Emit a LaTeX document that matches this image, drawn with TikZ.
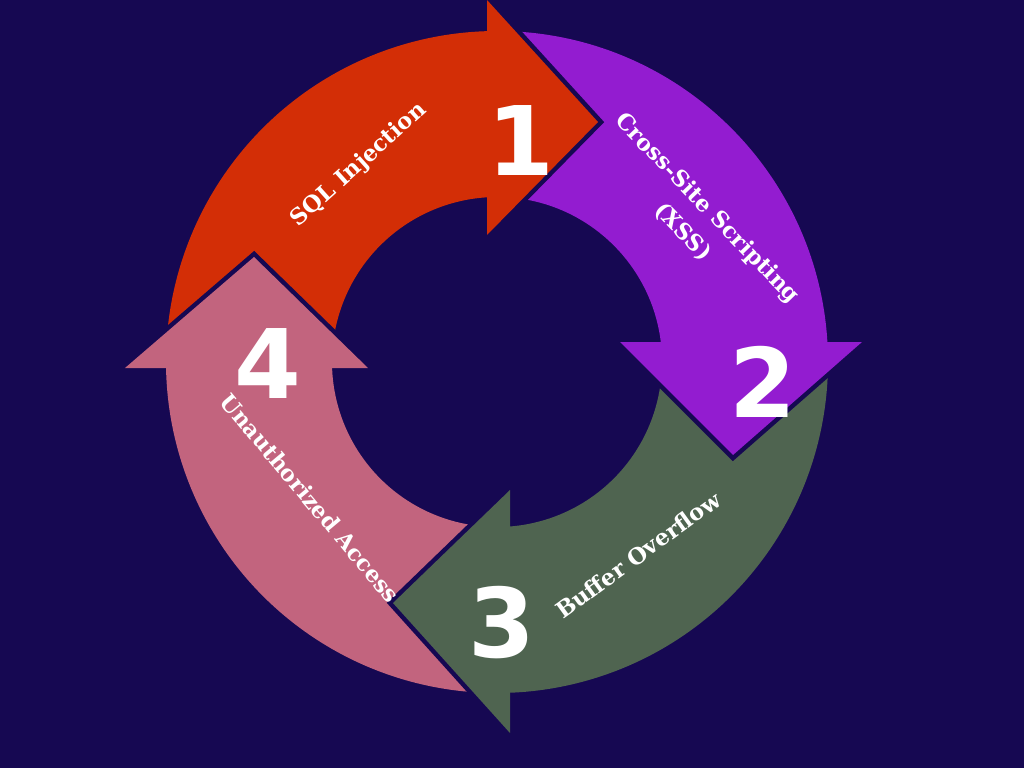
\documentclass[tikz,border=0pt]{standalone}
\usepackage{fontspec}
\newfontfamily\labelfont{DejaVu Serif}
\newfontfamily\numfont{DejaVu Sans}
\definecolor{bgnavy}{RGB}{22,8,82}
\definecolor{sqlred}{RGB}{211,46,6}
\definecolor{xsspurple}{RGB}{147,28,208}
\definecolor{bufgreen}{RGB}{79,100,80}
\definecolor{accpink}{RGB}{194,100,126}
\tikzset{
  gapline/.style={draw=bgnavy, line width=9pt, line join=miter},
  steplabel/.style={text=white, font=\labelfont\bfseries\fontsize{22.5}{34}\selectfont, inner sep=0pt, align=center},
  stepnum/.style={text=white, font=\numfont\bfseries\fontsize{96}{96}\selectfont, inner sep=0pt},
}
\begin{document}
\begin{tikzpicture}[x=1pt, y=1pt]
  \fill[bgnavy] (-497,-406) rectangle (527,362);
  \useasboundingbox (-497,-406) rectangle (527,362);
  \def\Ro{331}
  \def\Ri{165}
  % ring pieces, tails run in under the previous head
  \foreach \col/\from/\to in {sqlred/180/88, xsspurple/90/0, bufgreen/0/-92, accpink/-90/-183}
    \fill[\col] (\from:\Ro) arc[start angle=\from, end angle=\to, radius=\Ro]
      -- (\to:\Ri) arc[start angle=\to, end angle=\from, radius=\Ri] -- cycle;
  % heads
  \coordinate (r1) at (-10,362); \coordinate (rt) at (101,240); \coordinate (r2) at (-10,127);
  \coordinate (p1) at (123,20);  \coordinate (pt) at (236,-93); \coordinate (p2) at (365,20);
  \coordinate (g1) at (13,-128); \coordinate (gt) at (-104,-241); \coordinate (g2) at (13,-371);
  \coordinate (k1) at (-372,-6); \coordinate (kt) at (-243,105); \coordinate (k2) at (-129,-6);
  \draw[gapline] (r1) -- (rt) -- (r2);
  \fill[sqlred] (r1) -- (rt) -- (r2) -- cycle;
  \draw[gapline] (p1) -- (pt) -- (p2);
  \fill[xsspurple] (p1) -- (pt) -- (p2) -- cycle;
  \draw[gapline] (g1) -- (gt) -- (g2);
  \fill[bufgreen] (g1) -- (gt) -- (g2) -- cycle;
  \draw[gapline] (k1) -- (kt) -- (k2);
  \fill[accpink] (k1) -- (kt) -- (k2) -- cycle;
  % labels
  \node[steplabel, rotate=42] (sql) at (-138,197) {SQL Injection};
  \node[steplabel, rotate=-46] (xss) at (198,142) {Cross-Site Scripting\\(XSS)};
  \node[steplabel, rotate=36] (buf) at (141,-193) {Buffer Overflow};
  \node[steplabel, rotate=-50] (acc) at (-187,-136) {Unauthorized Access};
  \node[stepnum] (n1) at (24,221) {1};
  \node[stepnum] (n2) at (266,-20) {2};
  \node[stepnum] (n3) at (5,-261) {3};
  \node[stepnum] (n4) at (-229,-2) {4};
\end{tikzpicture}
\end{document}
